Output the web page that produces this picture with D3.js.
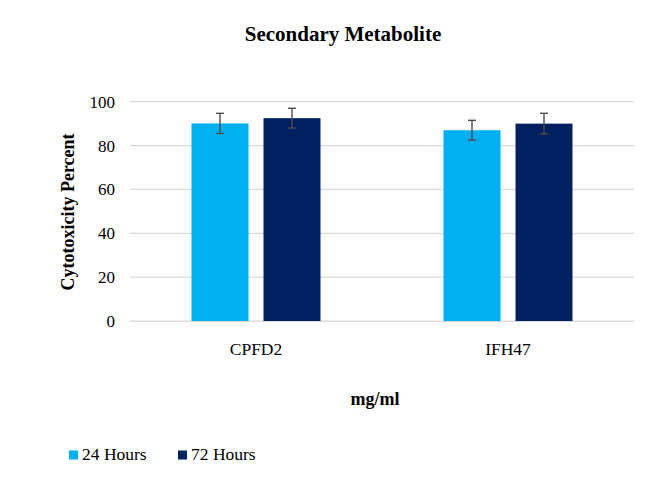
<!DOCTYPE html>
<html><head><meta charset="utf-8">
<script src="https://cdn.jsdelivr.net/npm/d3@7"></script>
<style>body{margin:0;background:#fff}svg{display:block}</style>
</head><body>
<svg id="c" width="666" height="477"></svg>
<script>
const categories = ["CPFD2", "IFH47"];
const seriesNames = ["24 Hours", "72 Hours"];
const values24 = [90.1, 87.0];
const values72 = [92.5, 90.0];
const errors24 = [4.6, 4.5];
const errors72 = [4.5, 4.7];
const yTicks = [0, 20, 40, 60, 80, 100];
const colors = ["#00B0F0", "#002060"];

const FONT = "'Liberation Serif'";
const svg = d3.select("#c").style("font-family", FONT);
const L = 130, R = 634, T = 101.7, B = 321;
const x = d3.scaleBand().domain(categories).range([L, R]);
const y = d3.scaleLinear().domain([0, 100]).range([B, T]);
const barW = 57, gap = 15;
const inner = d3.scaleBand().domain(seriesNames).range([0, barW * 2 + gap]).paddingInner(gap / (barW + gap));

function txt(sel) { return sel.style("font-family", FONT).attr("fill", "#000"); }

// gridlines
svg.append("g").selectAll("line").data(yTicks).join("line")
  .attr("x1", L).attr("x2", R).attr("y1", d => y(d)).attr("y2", d => y(d))
  .attr("stroke", "#d9d9d9").attr("stroke-width", 1.2);

// y tick labels
txt(svg.append("g").selectAll("text").data(yTicks).join("text"))
  .attr("x", 115).attr("y", d => y(d)).attr("dy", "0.35em")
  .attr("text-anchor", "end").style("font-size", "17px").text(d => d);

const data = [];
categories.forEach((c, i) => {
  data.push({c, s: seriesNames[0], v: values24[i], e: errors24[i], col: colors[0]});
  data.push({c, s: seriesNames[1], v: values72[i], e: errors72[i], col: colors[1]});
});
const off = (x.bandwidth() - (barW * 2 + gap)) / 2;
const bx = d => x(d.c) + off + inner(d.s);

svg.append("g").selectAll("rect").data(data).join("rect")
  .attr("x", bx).attr("width", inner.bandwidth())
  .attr("y", d => y(d.v)).attr("height", d => y(0) - y(d.v))
  .attr("fill", d => d.col);

// error bars
const eg = svg.append("g").attr("stroke", "#4d4d4d").attr("stroke-width", 1.4);
data.forEach(d => {
  const cx = bx(d) + inner.bandwidth() / 2;
  eg.append("line").attr("x1", cx).attr("x2", cx).attr("y1", y(d.v + d.e)).attr("y2", y(d.v - d.e));
  eg.append("line").attr("x1", cx - 4).attr("x2", cx + 4).attr("y1", y(d.v + d.e)).attr("y2", y(d.v + d.e));
  eg.append("line").attr("x1", cx - 4).attr("x2", cx + 4).attr("y1", y(d.v - d.e)).attr("y2", y(d.v - d.e));
});

// x axis line
svg.append("line").attr("x1", L).attr("x2", R).attr("y1", B + 0.5).attr("y2", B + 0.5)
  .attr("stroke", "#d9d9d9").attr("stroke-width", 1.2);

// x labels
txt(svg.append("g").selectAll("text").data(categories).join("text"))
  .attr("x", d => x(d) + x.bandwidth() / 2).attr("y", 355)
  .attr("text-anchor", "middle").style("font-size", "17.5px").text(d => d);

// title
txt(svg.append("text")).attr("x", 343).attr("y", 41).attr("text-anchor", "middle")
  .style("font-size", "21px").style("font-weight", "bold").text("Secondary Metabolite");

// axis titles
txt(svg.append("text")).attr("transform", "translate(74,212) rotate(-90)").attr("text-anchor", "middle")
  .style("font-size", "18px").style("font-weight", "bold").text("Cytotoxicity Percent");
txt(svg.append("text")).attr("x", 375).attr("y", 405).attr("text-anchor", "middle")
  .style("font-size", "18px").style("font-weight", "bold").text("mg/ml");

// legend
const lx = [69, 178];
const lg = svg.append("g");
seriesNames.forEach((s, i) => {
  lg.append("rect").attr("x", lx[i]).attr("y", 450.5).attr("width", 9).attr("height", 9).attr("fill", colors[i]);
  txt(lg.append("text")).attr("x", lx[i] + 13).attr("y", 460).style("font-size", "17.5px").text(s);
});
</script>
</body></html>
